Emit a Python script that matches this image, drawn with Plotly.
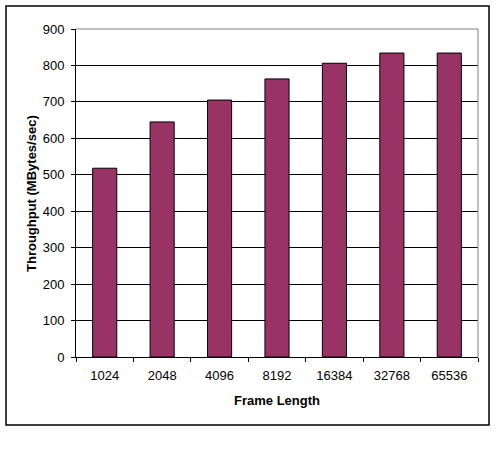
import plotly.graph_objects as go

categories = ["1024", "2048", "4096", "8192", "16384", "32768", "65536"]
throughput = [518, 645, 705, 763, 806, 834, 834]
y_ticks = [0, 100, 200, 300, 400, 500, 600, 700, 800, 900]

BAR_COLOR = "#993366"
FONT = "Liberation Sans, Arial, sans-serif"

fig = go.Figure(go.Bar(
    x=categories, y=throughput,
    marker=dict(color=BAR_COLOR, line=dict(color="black", width=1)),
    width=0.42,
))

L, R, T, B = 76, 22, 29, 93
W, H = 500, 450
pw, ph = W - L - R, H - T - B

def px_x(x):
    return (x - L) / pw

def px_y(y):
    return (H - B - y) / ph

fig.update_layout(
    width=W, height=H,
    margin=dict(l=L, r=R, t=T, b=B, pad=0, autoexpand=False),
    paper_bgcolor="white", plot_bgcolor="white",
    font=dict(family=FONT, size=13, color="black"),
    showlegend=False,
    xaxis=dict(
        type="category", automargin=False,
        showgrid=False, showline=True, linecolor="black", linewidth=1,
        ticks="outside", tickson="boundaries", ticklen=4, tickcolor="black",
        tickfont=dict(size=13), ticklabelstandoff=6,
    ),
    yaxis=dict(
        range=[0, 900], tickvals=y_ticks, automargin=False,
        showgrid=True, gridcolor="black", gridwidth=1,
        zeroline=False, showline=True, linecolor="black", linewidth=1,
        ticks="outside", ticklen=4, tickcolor="black",
        tickfont=dict(size=13), ticklabelstandoff=4,
    ),
    annotations=[
        dict(text="<b>Frame Length</b>", xref="paper", yref="paper",
             x=px_x(277), y=px_y(400), showarrow=False,
             xanchor="center", yanchor="middle", font=dict(size=13)),
        dict(text="<b>Throughput (MBytes/sec)</b>", xref="paper", yref="paper",
             x=px_x(31), y=px_y(194), showarrow=False, textangle=-90,
             xanchor="center", yanchor="middle", font=dict(size=13)),
    ],
    shapes=[
        dict(type="line", xref="paper", yref="paper", x0=0, x1=1, y0=1, y1=1,
             line=dict(color="#808080", width=1), layer="above"),
        dict(type="line", xref="paper", yref="paper", x0=1, x1=1, y0=0, y1=1,
             line=dict(color="#808080", width=1), layer="above"),
        dict(type="rect", xref="paper", yref="paper",
             x0=px_x(6), x1=px_x(489), y0=px_y(425), y1=px_y(6),
             line=dict(color="black", width=1.5), layer="below"),
    ],
)

fig.write_html("out.html", config={"displayModeBar": False},
               post_script="document.body.style.margin='0';")
